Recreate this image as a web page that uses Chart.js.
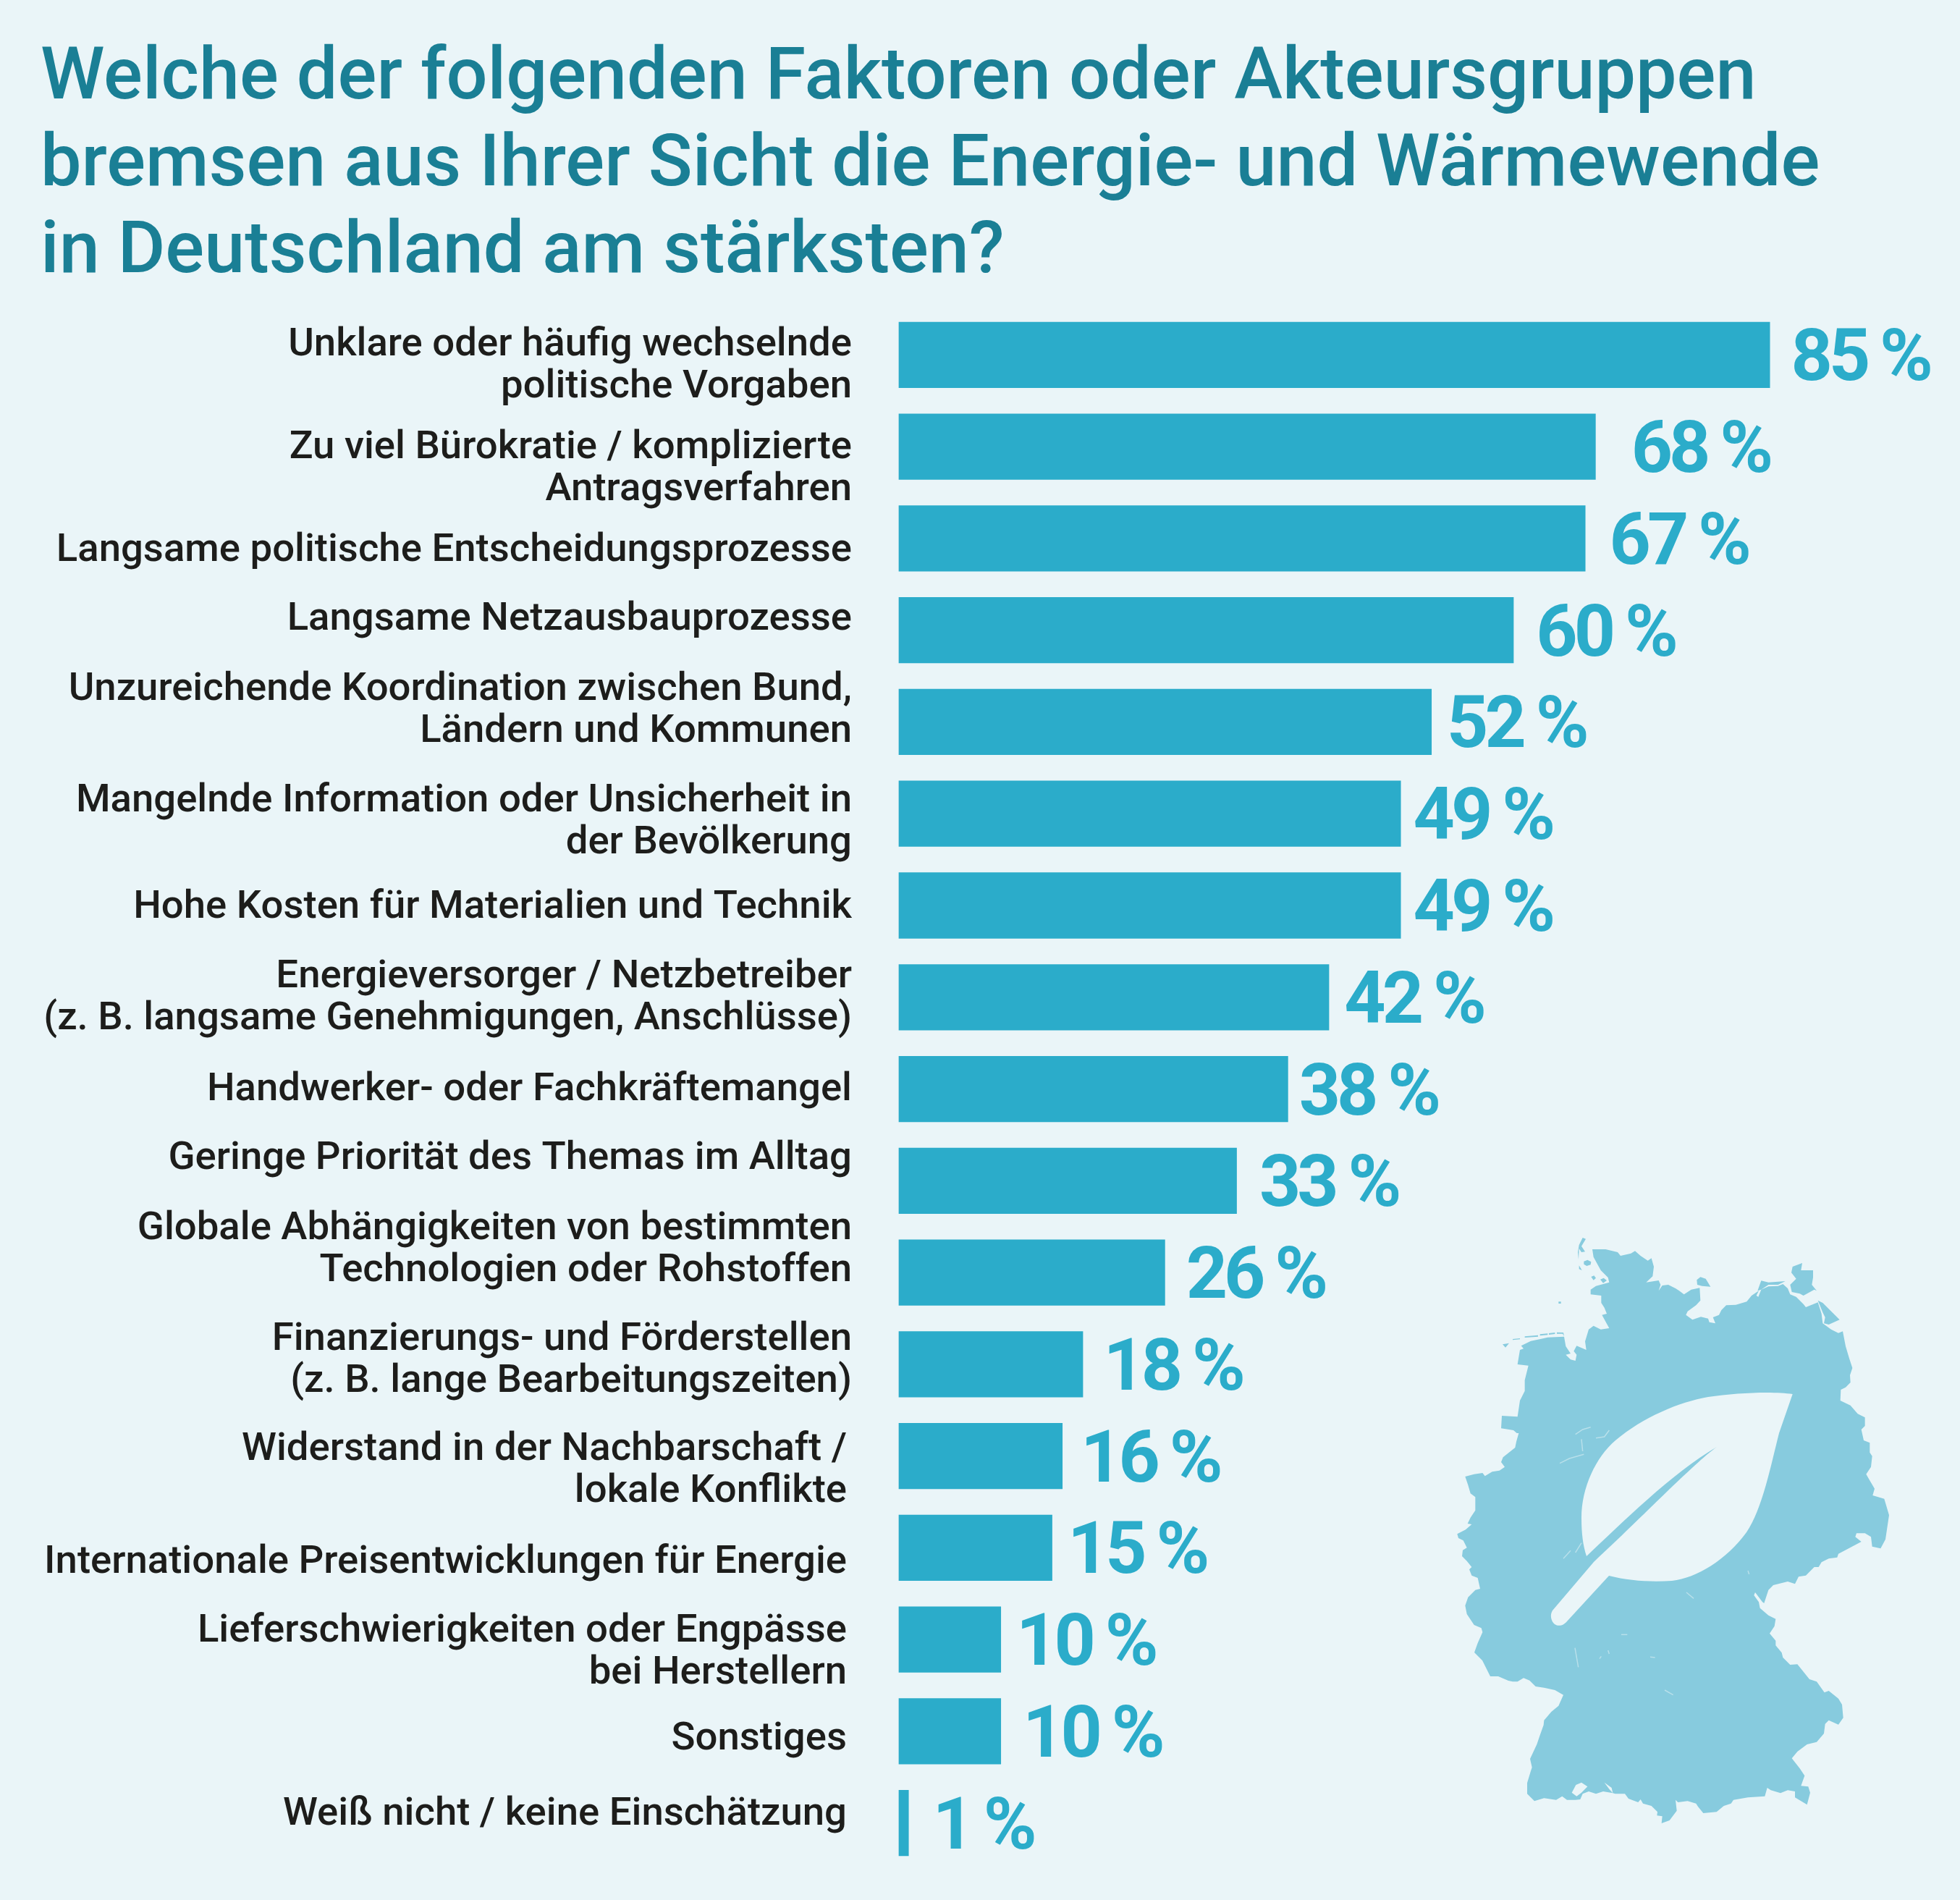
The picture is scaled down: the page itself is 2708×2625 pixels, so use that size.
<!DOCTYPE html>
<html lang="de">
<head>
<meta charset="utf-8">
<title>Energie- und Wärmewende</title>
<script src="https://cdn.jsdelivr.net/npm/chart.js@4"></script>
<style>
  html, body { margin: 0; padding: 0; background: #eaf5f8; }
  canvas { display: block; }
</style>
</head>
<body>
<canvas id="myChart" width="2708" height="2625"></canvas>
<script>
const titleLines = [
  'Welche der folgenden Faktoren oder Akteursgruppen',
  'bremsen aus Ihrer Sicht die Energie- und Wärmewende',
  'in Deutschland am stärksten?'
];

const categories = [
  ['Unklare oder häufig wechselnde', 'politische Vorgaben'],
  ['Zu viel Bürokratie / komplizierte', 'Antragsverfahren'],
  ['Langsame politische Entscheidungsprozesse'],
  ['Langsame Netzausbauprozesse'],
  ['Unzureichende Koordination zwischen Bund,', 'Ländern und Kommunen'],
  ['Mangelnde Information oder Unsicherheit in', 'der Bevölkerung'],
  ['Hohe Kosten für Materialien und Technik'],
  ['Energieversorger / Netzbetreiber', '(z. B. langsame Genehmigungen, Anschlüsse)'],
  ['Handwerker- oder Fachkräftemangel'],
  ['Geringe Priorität des Themas im Alltag'],
  ['Globale Abhängigkeiten von bestimmten', 'Technologien oder Rohstoffen'],
  ['Finanzierungs- und Förderstellen', '(z. B. lange Bearbeitungszeiten)'],
  ['Widerstand in der Nachbarschaft /', 'lokale Konflikte'],
  ['Internationale Preisentwicklungen für Energie'],
  ['Lieferschwierigkeiten oder Engpässe', 'bei Herstellern'],
  ['Sonstiges'],
  ['Weiß nicht / keine Einschätzung']
];

const shares = [85, 68, 67, 60, 52, 49, 49, 42, 38, 33, 26, 18, 16, 15, 10, 10, 1];

// hand placement of the texts next to each bar, in px
const labelShiftY = [16, 31, 17, -14, -15, 12, 3, 2, 2, -30, -31, -4, 21, 21, 18, 12, -11];
const labelRight = [1177, 1177, 1177, 1177, 1177, 1177, 1177, 1177, 1177, 1177, 1177, 1177, 1170, 1170, 1170, 1170, 1170];
const valueGap = [29, 49, 33, 31, 21, 17, 17, 21, 15, 31, 29, 28, 25, 21, 21, 30, 33];

const BG = '#eaf5f8';
const BAR = '#2bacca';
const MAP = '#87cbde';

// Germany silhouette, each run of points is [originX, originY, x, y, x, y ...] at 3 units per px
const mapOutline = [
  [2005, 1700, 585,78, 640,78, 690,90, 702,105, 745,95, 762,85, 785,105, 815,125, 830,115, 840,150, 835,190, 808,215, 860,207, 868,225, 860,250, 875,228, 900,225, 930,240],
  [2310, 1700, 30,250, 50,265, 80,245, 115,238, 118,290, 100,310, 65,335, 58,350, 85,370, 120,358, 150,365, 155,380, 180,385, 170,360, 195,350, 205,330, 225,310, 265,308, 310,295, 330,270, 360,250, 350,270, 358,275, 370,245, 400,232, 440,230, 460,222, 480,240, 490,265, 515,275, 545,305, 555,318, 605,298, 620,345, 625,385, 660,410, 690,425, 708,418, 720,480, 735,530, 748,570, 738,600, 740,630, 720,650, 700,660, 698,705, 740,725, 770,760, 800,775, 800,810, 785,825, 795,870],
  [2310, 1980, 820,40, 820,80, 830,95, 825,140, 805,170, 825,205, 840,230, 832,258, 880,272, 900,340, 885,440, 865,478, 830,470, 825,430, 800,415, 765,415, 760,430, 785,450, 690,500, 685,515, 650,520, 620,535, 608,555, 590,555, 555,590, 525,595, 510,625, 480,615, 420,630, 400,650, 382,705, 375,700, 345,660, 340,672, 360,700, 365,725, 400,755, 430,770, 425,800, 405,830, 430,860],
  [2310, 2240, 430,100, 455,130, 460,150, 490,180, 520,178, 570,240, 600,250, 632,295, 650,288, 690,320, 705,345, 710,400, 690,428, 650,410, 635,425, 630,465, 600,500, 560,510, 520,540, 497,568, 530,610, 550,640, 535,682, 565,685, 573,710, 560,760, 510,730, 510,705, 480,700, 450,712, 410,700, 395,690, 385,725, 315,730, 255,740, 245,755, 215,765, 185,790, 130,795, 108,768, 100,755, 65,745, 25,750, 15,740],
  [2090, 2240, 680,785, 650,825, 617,837, 620,808, 598,805, 600,790, 575,765, 540,755, 530,738, 520,750, 480,735, 465,715, 425,715, 415,712, 375,705, 345,715, 315,705, 290,715, 280,738, 260,740, 225,740, 205,725, 180,740, 130,733, 90,745, 60,715, 60,670, 75,620, 80,605, 72,570, 100,510, 112,475, 128,430, 130,410, 160,375, 190,350, 210,305, 175,285, 130,275, 95,270, 70,245, 45,235, 20,250, 0,250],
  [2005, 1980, 237,1026, 195,1008, 162,1008, 129,942, 96,909, 110,870, 130,825, 125,808, 95,795, 65,750, 58,715, 70,680, 100,650, 120,645, 110,600, 85,590, 75,565, 85,555, 65,530, 45,510, 48,485, 65,475, 50,445, 30,435, 25,418, 60,400, 85,378, 68,375, 80,350, 100,320, 100,265, 80,250, 70,215, 58,180, 95,170, 130,165, 140,178, 170,160, 200,155, 222,140, 207,120, 215,100, 265,60, 270,35, 280,0],
  [2005, 1700, 272,840, 258,828, 207,820, 210,768, 275,772, 285,705, 305,665, 305,620, 320,560, 275,555, 285,495, 300,490, 290,478, 330,458, 370,450, 400,443, 468,440, 475,480, 495,510, 475,515, 495,535, 515,540, 520,515, 508,500, 520,478, 560,495, 555,460, 570,410, 590,395, 620,410, 655,405, 625,350, 645,345, 635,320, 622,300, 622,270, 578,265, 578,245, 600,230, 655,215, 650,195, 620,165, 590,110]
];

// islands along both coasts
const mapIslands = [
  [2005, 1700, 545,30, 558,35, 540,65, 555,88, 540,90, 530,75, 528,120, 525,90, 530,60],
  [2005, 1700, 550,128, 565,122, 580,130, 578,142, 562,147, 550,140],
  [2005, 1700, 530,145, 542,165, 530,160],
  [2005, 1700, 580,192, 592,187, 600,197, 590,206],
  [2005, 1700, 618,203, 632,197, 645,207, 630,218],
  [2005, 1700, 445,295, 455,295, 455,303, 445,303],
  [2005, 1700, 213,472, 240,467, 225,485],
  [2005, 1700, 255,450, 285,447, 285,451, 255,454],
  [2005, 1700, 305,439, 360,434, 360,440, 305,444],
  [2005, 1700, 368,430, 400,427, 400,433, 368,436],
  [2005, 1700, 405,426, 430,423, 430,429, 405,432],
  [2005, 1700, 438,422, 465,423, 468,438, 462,428, 438,428],
  [2310, 1700, 103,205, 118,193, 140,200, 160,233, 125,230, 105,225],
  [2310, 1700, 500,150, 540,135, 535,165, 585,165, 585,195, 580,225, 600,250, 590,245, 545,270, 530,262, 497,255, 490,225, 515,200, 495,175],
  [2310, 1700, 355,250, 370,208, 400,215, 470,210, 440,225, 400,225, 370,245],
  [2310, 1700, 605,290, 625,300, 655,330, 695,370, 650,390, 630,385, 635,360, 625,340]
];

// Lake Constance, left open in the silhouette
const mapLake = [
  [2090, 2240, 245,710, 262,678, 285,668, 310,685, 285,710, 265,725],
  [2090, 2240, 380,668, 410,690, 415,712, 400,695]
];

// faint state borders
const mapBorders = [
  [2005, 1700, 515,845, 545,825, 578,815],
  [2005, 1700, 600,860, 635,855, 655,828],
  [2005, 1980, 450,125, 490,105, 550,88],
  [2005, 1980, 540,25, 545,75],
  [2005, 1980, 515,495, 540,455],
  [2005, 1980, 465,520, 495,487],
  [2090, 2240, 258,110, 272,190],
  [2090, 2240, 450,55, 475,55],
  [2090, 2240, 395,120, 400,135],
  [2090, 2240, 360,155, 367,145],
  [2090, 2240, 630,285, 665,305],
  [2090, 2240, 570,148, 590,150],
  [2310, 1980, 60,660, 90,685],
  [2310, 1980, 315,570, 320,585]
];

const leaf = 'M2476.7 1926 C2450 1922 2400 1924 2360 1930 C2320 1937 2270 1958 2232 1990 C2205 2013 2185 2055 2185 2097 '
  + 'C2185 2118 2187 2135 2192 2150 C2240 2105 2310 2035 2372 1999 C2340 2022 2270 2095 2202 2158 L2145 2225 '
  + 'C2141 2231 2143 2240 2148 2244 C2154 2248 2161 2245 2165 2240 L2223 2177 C2250 2184 2281 2186 2310 2184 '
  + 'C2345 2180 2385 2155 2413 2117 C2435 2085 2447 2023 2458 1980 L2476.7 1926 Z';

function addRuns(path, runs, closeEach) {
  let started = false;
  runs.forEach(run => {
    if (closeEach) started = false;
    for (let i = 2; i < run.length; i += 2) {
      const x = run[0] + run[i] / 3;
      const y = run[1] + run[i + 1] / 3;
      if (started) path.lineTo(x, y);
      else { path.moveTo(x, y); started = true; }
    }
    if (closeEach === true) path.closePath();
  });
  return path;
}

const mapPlugin = {
  id: 'mapPlugin',
  beforeDatasetsDraw(chart) {
    const ctx = chart.ctx;
    ctx.save();
    ctx.fillStyle = MAP;
    const land = addRuns(new Path2D(), mapOutline, false);
    land.closePath();
    ctx.fill(land);
    ctx.fill(addRuns(new Path2D(), mapIslands, true));
    ctx.fillStyle = BG;
    ctx.fill(addRuns(new Path2D(), mapLake, true));
    ctx.fill(new Path2D(leaf));
    ctx.strokeStyle = 'rgba(234, 245, 248, 0.5)';
    ctx.lineWidth = 1.5;
    mapBorders.forEach(run => ctx.stroke(addRuns(new Path2D(), [run], false)));
    ctx.restore();
  }
};

// category texts left of the bars and the percent values after them
const textPlugin = {
  id: 'textPlugin',
  afterDatasetsDraw(chart) {
    const ctx = chart.ctx;
    const yScale = chart.scales.y;
    const bars = chart.getDatasetMeta(0).data;
    ctx.save();
    ctx.textBaseline = 'middle';

    ctx.font = '500 54.5px Roboto';
    ctx.fillStyle = '#1d1d1b';
    ctx.textAlign = 'right';
    categories.forEach((lines, i) => {
      const mid = yScale.getPixelForValue(i) + labelShiftY[i];
      lines.forEach((line, k) => {
        ctx.fillText(line, labelRight[i], mid + (k - (lines.length - 1) / 2) * 58);
      });
    });

    ctx.font = '700 100px Roboto';
    ctx.fillStyle = BAR;
    ctx.textAlign = 'left';
    ctx.letterSpacing = '-5px';
    ctx.wordSpacing = '-2px';
    shares.forEach((v, i) => {
      ctx.fillText(v + ' %', bars[i].x + valueGap[i], bars[i].y + 10);
    });
    ctx.restore();
  }
};

const data = {
  labels: categories,
  datasets: [{
    label: 'Anteil in %',
    data: shares,
    backgroundColor: BAR,
    borderWidth: 0,
    barPercentage: 0.72,
    categoryPercentage: 1
  }]
};

const config = {
  type: 'bar',
  data,
  plugins: [mapPlugin, textPlugin],
  options: {
    indexAxis: 'y',
    responsive: false,
    animation: false,
    layout: { padding: { left: 56, top: 51, right: 50, bottom: 43 } },
    scales: {
      x: { display: false, min: 0, max: 100 },
      y: {
        grid: { display: false },
        border: { display: false },
        ticks: { display: false },
        afterFit(scale) { scale.width = 1241.4 - 56; }
      }
    },
    plugins: {
      legend: { display: false },
      tooltip: { enabled: false },
      title: {
        display: true,
        text: titleLines,
        align: 'start',
        color: '#1a7f95',
        font: { family: 'Roboto', weight: '500', size: 100.6, lineHeight: 1.193 },
        padding: { top: 0, bottom: 16 }
      }
    }
  }
};

const myChart = new Chart(document.getElementById('myChart'), config);
</script>
</body>
</html>
